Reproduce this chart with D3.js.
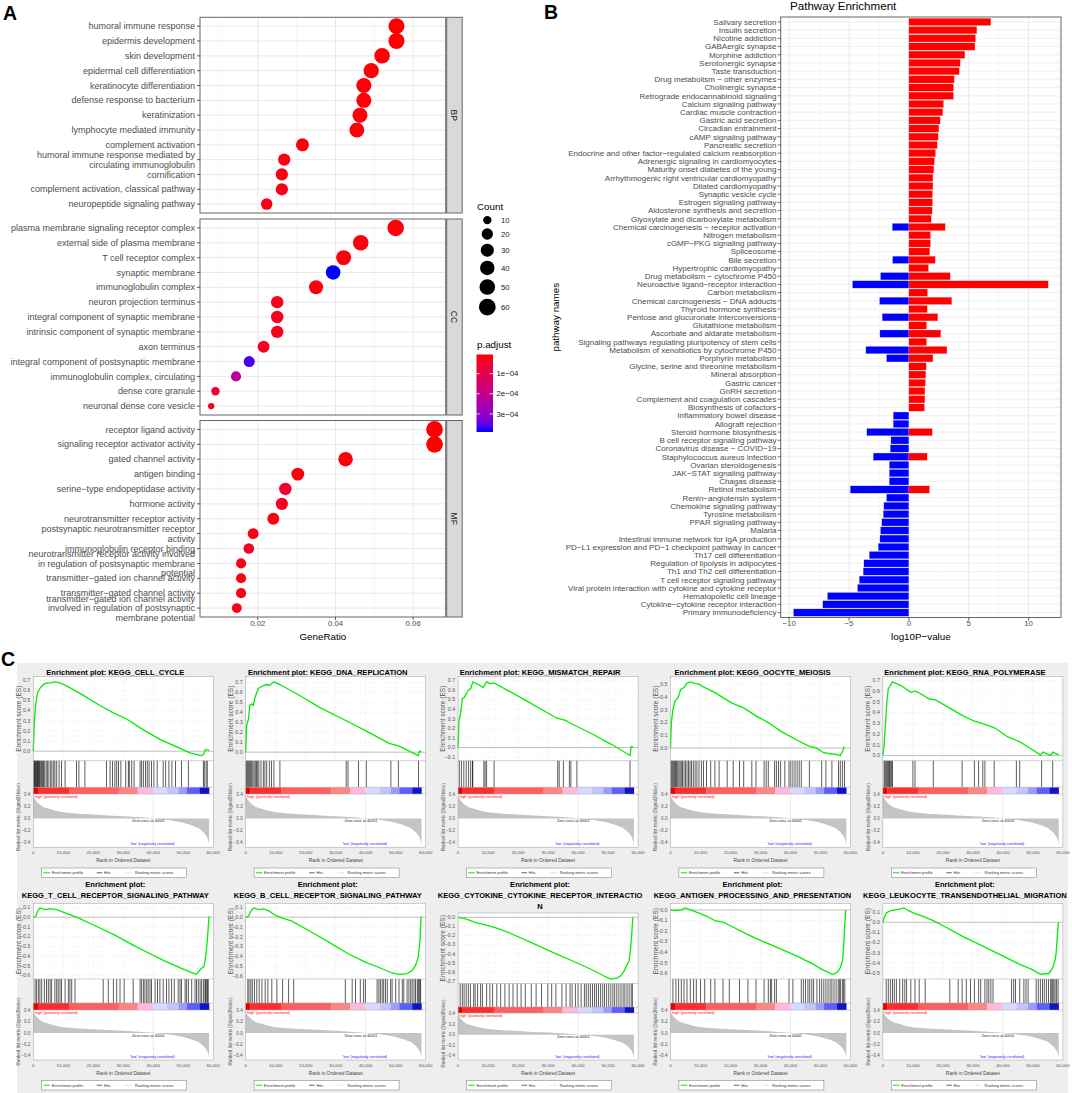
<!DOCTYPE html>
<html>
<head>
<meta charset="utf-8">
<title>Enrichment figure</title>
<script src="https://cdn.jsdelivr.net/npm/d3@7/dist/d3.min.js"></script>
<style>
body { margin: 0; background: #fff; }
svg { display: block; font-family: "Liberation Sans", Arial, Helvetica, sans-serif; }
</style>
</head>
<body>
<script>
// ---------- panel A : GO dot plot ----------
var bpTerms = ["humoral immune response", "epidermis development", "skin development",
  "epidermal cell differentiation", "keratinocyte differentiation", "defense response to bacterium",
  "keratinization", "lymphocyte mediated immunity", "complement activation",
  "humoral immune response mediated by\ncirculating immunoglobulin", "cornification",
  "complement activation, classical pathway", "neuropeptide signaling pathway"];
var bpRatio = [0.0557, 0.0557, 0.0520, 0.0492, 0.0473, 0.0473, 0.0463, 0.0455, 0.0315, 0.0268, 0.0262, 0.0262, 0.0223];
var bpCount = [53, 53, 49, 47, 45, 45, 44, 43, 30, 25, 25, 25, 21];
var bpPadj = [5e-6, 6e-6, 8e-6, 9e-6, 9e-6, 1e-5, 1e-5, 1.2e-5, 1.5e-5, 1.6e-5, 1.8e-5, 1.8e-5, 2e-5];

var ccTerms = ["plasma membrane signaling receptor complex", "external side of plasma membrane",
  "T cell receptor complex", "synaptic membrane", "immunoglobulin complex", "neuron projection terminus",
  "integral component of synaptic membrane", "intrinsic component of synaptic membrane", "axon terminus",
  "integral component of postsynaptic membrane", "immunoglobulin complex, circulating",
  "dense core granule", "neuronal dense core vesicle"];
var ccRatio = [0.0555, 0.0465, 0.0421, 0.0394, 0.0350, 0.0250, 0.0250, 0.0250, 0.0215, 0.0178, 0.0144, 0.0091, 0.0080];
var ccCount = [58, 49, 44, 41, 37, 26, 26, 26, 23, 19, 15, 10, 8];
var ccPadj = [1e-5, 1.2e-5, 1.5e-5, 3.9e-4, 1.8e-5, 2.5e-5, 2.5e-5, 2.5e-5, 3e-5, 3.7e-4, 2.2e-4, 5e-5, 2.5e-5];

var mfTerms = ["receptor ligand activity", "signaling receptor activator activity", "gated channel activity",
  "antigen binding", "serine\u2212type endopeptidase activity", "hormone activity",
  "neurotransmitter receptor activity", "postsynaptic neurotransmitter receptor\nactivity",
  "immunoglobulin receptor binding",
  "neurotransmitter receptor activity involved\nin regulation of postsynaptic membrane\npotential",
  "transmitter\u2212gated ion channel activity", "transmitter\u2212gated channel activity",
  "transmitter\u2212gated ion channel activity\ninvolved in regulation of postsynaptic\nmembrane potential"];
var mfRatio = [0.0655, 0.0655, 0.0426, 0.0303, 0.0271, 0.0262, 0.0240, 0.0188, 0.0177, 0.0157, 0.0157, 0.0157, 0.0146];
var mfCount = [60, 60, 40, 29, 26, 25, 23, 18, 17, 15, 15, 15, 14];
var mfPadj = [6e-6, 6e-6, 1e-5, 1.5e-5, 5e-5, 3.5e-5, 1.5e-5, 2e-5, 4e-5, 2e-5, 2e-5, 2e-5, 2e-5];

var goRatioTicks = [0.02, 0.04, 0.06];
var countBreaks = [10, 20, 30, 40, 50, 60];
var padjBreaks = [1e-4, 2e-4, 3e-4];

// ---------- panel B : KEGG pathway bars ----------
var keggNames = ["Salivary secretion", "Insulin secretion", "Nicotine addiction", "GABAergic synapse",
  "Morphine addiction", "Serotonergic synapse", "Taste transduction", "Drug metabolism \u2212 other enzymes",
  "Cholinergic synapse", "Retrograde endocannabinoid signaling", "Calcium signaling pathway",
  "Cardiac muscle contraction", "Gastric acid secretion", "Circadian entrainment", "cAMP signaling pathway",
  "Pancreatic secretion", "Endocrine and other factor\u2212regulated calcium reabsorption",
  "Adrenergic signaling in cardiomyocytes", "Maturity onset diabetes of the young",
  "Arrhythmogenic right ventricular cardiomyopathy", "Dilated cardiomyopathy", "Synaptic vesicle cycle",
  "Estrogen signaling pathway", "Aldosterone synthesis and secretion", "Glyoxylate and dicarboxylate metabolism",
  "Chemical carcinogenesis \u2212 receptor activation", "Nitrogen metabolism", "cGMP\u2212PKG signaling pathway",
  "Spliceosome", "Bile secretion", "Hypertrophic cardiomyopathy", "Drug metabolism \u2212 cytochrome P450",
  "Neuroactive ligand\u2212receptor interaction", "Carbon metabolism", "Chemical carcinogenesis \u2212 DNA adducts",
  "Thyroid hormone synthesis", "Pentose and glucuronate interconversions", "Glutathione metabolism",
  "Ascorbate and aldarate metabolism", "Signaling pathways regulating pluripotency of stem cells",
  "Metabolism of xenobiotics by cytochrome P450", "Porphyrin metabolism",
  "Glycine, serine and threonine metabolism", "Mineral absorption", "Gastric cancer", "GnRH secretion",
  "Complement and coagulation cascades", "Biosynthesis of cofactors", "Inflammatory bowel disease",
  "Allograft rejection", "Steroid hormone biosynthesis", "B cell receptor signaling pathway",
  "Coronavirus disease \u2212 COVID\u221219", "Staphylococcus aureus infection", "Ovarian steroidogenesis",
  "JAK\u2212STAT signaling pathway", "Chagas disease", "Retinol metabolism", "Renin\u2212angiotensin system",
  "Chemokine signaling pathway", "Tyrosine metabolism", "PPAR signaling pathway", "Malaria",
  "Intestinal immune network for IgA production", "PD\u2212L1 expression and PD\u22121 checkpoint pathway in cancer",
  "Th17 cell differentiation", "Regulation of lipolysis in adipocytes", "Th1 and Th2 cell differentiation",
  "T cell receptor signaling pathway", "Viral protein interaction with cytokine and cytokine receptor",
  "Hematopoietic cell lineage", "Cytokine\u2212cytokine receptor interaction", "Primary immunodeficiency"];
var keggUp = [6.85, 5.68, 5.57, 5.52, 4.68, 4.29, 4.21, 3.79, 3.73, 3.73,
  2.90, 2.84, 2.62, 2.51, 2.45, 2.37, 2.23, 2.14, 2.09, 2.01,
  2.01, 1.98, 1.98, 1.95, 1.87, 3.04, 1.81, 1.81, 1.75, 2.20,
  1.64, 3.45, 11.64, 1.56, 3.59, 1.53, 2.42, 1.48, 2.67, 1.48,
  3.18, 2.01, 1.45, 1.42, 1.39, 1.34, 1.34, 1.31, null, null,
  1.95, null, null, 1.53, null, null, null, 1.73, null, null,
  null, null, null, null, null, null, null, null, null, null,
  null, null, null];
var keggDown = [null, null, null, null, null, null, null, null, null, null,
  null, null, null, null, null, null, null, null, null, null,
  null, null, null, null, null, -1.39, null, null, null, -1.36,
  null, -2.37, -4.71, null, -2.45, null, -2.23, null, -2.42, null,
  -3.59, -1.87, null, null, null, null, null, null, -1.31, -1.31,
  -3.51, -1.50, -1.56, -2.98, -1.64, -1.64, -1.64, -4.90, -1.87, -2.09,
  -2.14, -2.26, -2.37, -2.42, -2.56, -3.31, -3.76, -3.82, -4.15, -4.29,
  -6.80, -7.19, -9.64];
var keggTicks = [-10, -5, 0, 5, 10];

// ---------- panel C : GSEA enrichment plots (rank in thousands) ----------
var gseaTitles = [
  ["Enrichment plot: KEGG_CELL_CYCLE"], ["Enrichment plot: KEGG_DNA_REPLICATION"],
  ["Enrichment plot: KEGG_MISMATCH_REPAIR"], ["Enrichment plot: KEGG_OOCYTE_MEIOSIS"],
  ["Enrichment plot: KEGG_RNA_POLYMERASE"],
  ["Enrichment plot:", "KEGG_T_CELL_RECEPTOR_SIGNALING_PATHWAY"],
  ["Enrichment plot:", "KEGG_B_CELL_RECEPTOR_SIGNALING_PATHWAY"],
  ["Enrichment plot:", "KEGG_CYTOKINE_CYTOKINE_RECEPTOR_INTERACTIO", "N"],
  ["Enrichment plot:", "KEGG_ANTIGEN_PROCESSING_AND_PRESENTATION"],
  ["Enrichment plot:", "KEGG_LEUKOCYTE_TRANSENDOTHELIAL_MIGRATION"]];

var es1 = [[0,0],[0.33,0.28],[0.78,0.45],[1.33,0.57],[2.22,0.62],[3.11,0.65],[3.89,0.667],[5.56,0.673],[7.22,0.683],[8.89,0.673],[11.1,0.643],[16.7,0.55],[22.2,0.45],[26.7,0.377],[31.1,0.317],[36.7,0.21],[42.2,0.117],[47.8,0.043],[52.2,-0.017],[55.9,-0.043],[56.7,-0.033],[57.4,0.017],[58.6,0.007]];
var es2 = [[0,0],[0.3,0.265],[0.9,0.33],[1.4,0.47],[2,0.485],[2.5,0.47],[3.1,0.55],[4.2,0.64],[5.9,0.67],[7,0.68],[8,0.673],[9.4,0.707],[11.4,0.68],[18,0.57],[24.6,0.45],[33.5,0.316],[40.1,0.214],[47.8,0.088],[51.2,0.061],[57.5,-0.034],[58,0.01],[58.6,0.003]];
var es3 = [[0,0],[0.27,0.27],[0.8,0.35],[1.4,0.51],[2,0.52],[2.7,0.56],[3.5,0.6],[4.2,0.615],[4.9,0.685],[7.2,0.65],[8.3,0.625],[9.5,0.685],[10.6,0.668],[12,0.675],[21.5,0.51],[32.8,0.308],[35.8,0.283],[37.8,0.248],[44.6,0.143],[51.4,0.028],[57.3,-0.084],[57.7,0.01],[58.3,0.007]];
var es4 = [[0,0],[0.27,0.195],[0.8,0.3],[1.5,0.37],[2.5,0.395],[3.4,0.46],[4.5,0.475],[5.5,0.51],[6.6,0.52],[7.9,0.51],[9.6,0.5],[11,0.48],[14.8,0.435],[20.3,0.355],[24.4,0.315],[28.5,0.253],[32.6,0.2],[36.7,0.133],[42.2,0.061],[46.3,0.013],[48.4,0.003],[51.1,-0.037],[53.2,-0.045],[55.2,-0.05],[56.6,-0.059],[57.5,-0.019],[57.9,0.013]];
var es5 = [[0,0],[0.4,0.096],[0.8,0.27],[1.4,0.527],[1.8,0.62],[2.5,0.655],[3.2,0.687],[5.9,0.655],[9.3,0.59],[10.7,0.6],[12,0.585],[15.5,0.527],[17.5,0.52],[21,0.463],[26.4,0.374],[30.5,0.32],[33.3,0.297],[37.4,0.256],[41.5,0.176],[45.6,0.128],[48.4,0.08],[52.5,0.006],[53.4,0.032],[55.9,0],[56.6,0.032],[58.6,0.006]];
var es6 = [[0,0],[0.8,0.01],[1.4,0.06],[2.2,0.096],[3.9,0.079],[5.6,0.089],[7.8,0.079],[10.6,0.045],[15,-0.007],[21.7,-0.103],[27.2,-0.185],[32.8,-0.28],[38.3,-0.366],[43.9,-0.452],[49.4,-0.527],[52.8,-0.572],[54.4,-0.589],[55,-0.565],[56.1,-0.527],[56.9,-0.51],[57.4,-0.418],[58,-0.247],[58.3,-0.11],[58.6,0.01]];
var es7 = [[0,0],[0.9,0.01],[2,0.077],[2.8,0.094],[4.2,0.077],[5.9,0.084],[7.6,0.067],[9.8,0.02],[12,-0.007],[15.4,-0.04],[23.2,-0.174],[28.8,-0.275],[34.3,-0.376],[39.9,-0.46],[45.5,-0.527],[48.8,-0.57],[51.1,-0.584],[53.8,-0.577],[55.5,-0.544],[56.6,-0.493],[57.5,-0.409],[58,-0.275],[58.3,-0.107],[58.5,0.01]];
var es8 = [[0,0],[2,-0.011],[4.1,-0.036],[6.1,-0.062],[9.5,-0.087],[13.6,-0.127],[17.6,-0.178],[24.4,-0.279],[31.2,-0.38],[38,-0.478],[44.8,-0.58],[48.8,-0.649],[50.9,-0.681],[52.9,-0.67],[54.3,-0.641],[55.4,-0.587],[56.3,-0.525],[57,-0.478],[57.5,-0.351],[57.9,-0.17],[58.2,-0.025],[58.3,0]];
var es9 = [[0,0],[1.1,-0.006],[2.5,-0.003],[3.8,0.003],[4.9,0.019],[5.9,0.009],[7.3,-0.006],[9.3,-0.028],[12.1,-0.06],[14.8,-0.101],[17.5,-0.116],[20.3,-0.154],[25.8,-0.233],[28.5,-0.27],[35.3,-0.352],[42.2,-0.437],[47.7,-0.516],[50.4,-0.563],[52.5,-0.588],[53.8,-0.61],[54.8,-0.604],[55.9,-0.579],[56.6,-0.547],[57.3,-0.484],[57.5,-0.421],[57.8,-0.296],[58.1,-0.138],[58.4,0]];
var es10 = [[0,0],[0.4,0.042],[1.1,0.092],[2.5,0.114],[4.5,0.124],[5.9,0.131],[7,0.141],[8.6,0.114],[10.7,0.085],[12.7,0.065],[16.8,0.016],[21,-0.049],[26.4,-0.137],[33.3,-0.235],[40.1,-0.333],[45.6,-0.415],[49.7,-0.464],[52.5,-0.513],[53.8,-0.507],[55.2,-0.507],[55.9,-0.48],[56.6,-0.448],[57.3,-0.382],[57.7,-0.317],[58.1,-0.154],[58.5,0]];

var hits1 = [0.2,0.4,0.6,0.8,1.0,1.2,1.4,1.6,1.8,2.0,2.2,2.5,2.8,3.1,3.4,3.8,4.3,4.7,5.2,5.8,6.2,6.8,7.2,7.8,8.6,9.4,10.6,14.4,15.2,17.2,24.4,25.6,26.4,27.2,27.8,28.4,29.2,30.8,31.7,32,32.8,33.6,35.6,36.1,36.7,37.4,38,38.6,39.4,40.2,41.3,43.3,44.1,45.2,46.2,47.4,49.4,51.7,56.7,57,57.6,58];
var hits2 = [0.2,0.5,0.8,1.1,1.4,1.7,2,2.4,2.8,3.2,3.6,4.0,4.4,5.1,5.9,6.4,7.0,7.9,8.6,9.4,11.4,33.5,34.1,37.6,40.2,48.4,50.9,57.6];
var hits3 = [0.4,1.1,1.9,2.7,3.5,4.2,4.8,4.9,8.6,9,9.5,12,33.2,33.7,35.1,37.1,37.6,39.6,57.3];
var hits4 = [0.2,0.5,0.8,1.1,1.4,1.7,2.0,2.4,2.8,3.2,3.6,4.0,4.5,5.0,5.5,6.0,6.5,7.0,7.6,8.2,8.8,9.5,10.3,11.0,12.0,13.4,14.8,16.2,18.9,20.9,23,24.4,27.1,28.5,31.2,31.9,32.6,34.7,35.3,36,36.7,38.1,39.5,40.1,40.8,41.5,42.2,42.9,43.6,46.3,50.4,51.8,53.8,56,56.6,57.3,58];
var hits5 = [0.4,0.7,1.0,1.3,1.6,1.9,2.2,2.5,2.9,3.2,10,10.7,16.8,26.4,30.5,31.9,33.3,34,37.1,44.5,45.6,52.9,56.6];
var hits6 = [0.6,1.1,1.7,2.2,2.8,3.7,4.4,5,5.6,6.1,7.2,7.8,8.3,8.9,9.4,10.6,11.7,12.2,12.8,13.9,23.3,25,26.7,27.8,28.9,30.3,33.3,35.6,36.1,36.7,37.2,37.8,38.3,38.9,39.4,40.6,41.4,42.2,43.3,44.4,45.2,46.1,47,48.3,48.9,49.4,50.6,51.1,51.7,52.8,53.9,54.4,55,55.6,56.1,56.7,57.2,57.4,57.8,58.1,58.3];
var hits7 = [0.7,1.1,1.7,2.2,2.9,3.7,4.5,5.4,6.5,7.4,8.7,10.4,12.3,14.3,16,33.2,35.5,36.6,38.2,39.3,39.9,43.8,44.4,44.9,45.5,46,46.6,47.2,48.3,48.8,50,51.1,52.2,52.7,53.8,54.4,55,55.5,56.1,56.6,57.2,57.5,57.8,58.1,58.3];
var hits8 = [0.7,1.4,2,2.7,3.4,4.1,5.2,5.7,6.5,7.5,8.1,9.5,10.6,11.5,12.9,14.2,15.6,17,18.3,19.7,21,22.4,24.4,26,27.8,29.9,31.2,32.6,34.6,36,37.3,38,39.1,40,41,42.1,42.7,43.4,44.1,44.8,45.5,46.1,46.8,47.5,48.2,48.8,49.5,50.2,50.9,51.6,52.2,52.9,53.6,54.3,55,55.6,56.3,57,57.7,58.1];
var hits9 = [0.8,1.8,2.7,3.6,4.5,5.5,6.6,7.7,8.6,10,11.4,13.4,14.8,17.5,19.6,23,25.8,28.5,31.2,32.6,33.3,33.7,34.7,35.3,39.5,40.8,43.6,44.3,45,45.8,46.4,47.1,47.7,48.8,49.7,50.4,51.1,51.8,52.5,53.2,53.8,54.5,55.2,55.9,56.3,56.7,57.3,57.7,58.1];
var hits10 = [1.1,1.8,2.5,3.2,3.8,4.5,5.6,6.6,7.3,7.9,9.3,10.7,12.1,14.1,22.3,25.1,26.4,27.8,29.2,30.5,31.9,32.6,34,34.7,35.3,36,36.7,42.9,43.6,44.2,45.6,47,47.7,48.4,51.1,51.8,52.5,53.2,53.8,54.5,55.2,55.9,56.3,56.6,57,57.4,57.9,58.4];

// ranked list metric (shared by all plots)
var metricCurve = [[0,0.38],[0.5,0.33],[1.2,0.28],[2.2,0.23],[3.5,0.19],[5.6,0.16],[7.5,0.13],[10,0.105],[15,0.082],[20,0.067],[25,0.052],[30,0.04],[35,0.025],[40,0.004],[40.1,-0.002],[44,-0.017],[49,-0.056],[52,-0.1],[55,-0.156],[56.7,-0.23],[57.8,-0.3],[58.4,-0.38],[58.6,-0.44]];
var metricTicks = [-0.4, -0.2, 0, 0.2, 0.4];
var heatEdges = [0, 1.5, 11.9, 28.5, 34.8, 39.9, 44.6, 48.4, 51.2, 55.5, 58.6];
var heatColors = ["#e80000", "#ff2e2e", "#ff5f5f", "#ff8585", "#ffb8de", "#d9d9ff", "#c3c3ff", "#9c9cff", "#5e5eff", "#1212c8"];
var zeroCross = 40.001;

// ---------------------------------------------------------------
var W = 1072, H = 1093;
var svg = d3.select("body").append("svg").attr("width", W).attr("height", H);

function letter(x, y, s) {
  svg.append("text").attr("x", x).attr("y", y).attr("font-size", 19.5)
     .attr("font-weight", "bold").attr("fill", "#000").text(s);
}
letter(3, 20, "A");
letter(544, 18.5, "B");
letter(1, 665.5, "C");

// ================= Panel A =================
var aLeft = 200, aRight = 445.7;
var facets = [
  {name: "BP", terms: bpTerms, ratio: bpRatio, count: bpCount, padj: bpPadj, y0: 17.3, y1: 213},
  {name: "CC", terms: ccTerms, ratio: ccRatio, count: ccCount, padj: ccPadj, y0: 219, y1: 415},
  {name: "MF", terms: mfTerms, ratio: mfRatio, count: mfCount, padj: mfPadj, y0: 420.5, y1: 617}
];
var allRatio = bpRatio.concat(ccRatio, mfRatio);
var rExt = d3.extent(allRatio), rPad = (rExt[1] - rExt[0]) * 0.05;
var xA = d3.scaleLinear().domain([rExt[0] - rPad, rExt[1] + rPad]).range([aLeft, aRight]);
var cExt = d3.extent(bpCount.concat(ccCount, mfCount));
var sizeLin = d3.scaleLinear().domain([0, 1]).range([3.15, 8.35]);
function dotR(c) { return sizeLin(Math.sqrt((c - cExt[0]) / (cExt[1] - cExt[0]))); }
var pExt = d3.extent(bpPadj.concat(ccPadj, mfPadj));
var colA = d3.scaleLinear().domain(pExt).range(["#ff0000", "#0000ff"]).interpolate(d3.interpolateLab);
var minorA = goRatioTicks.map(function(t) { return t - 0.01; })
  .concat([goRatioTicks[goRatioTicks.length - 1] + 0.01])
  .filter(function(t) { return t > xA.domain()[0] && t < xA.domain()[1]; });

facets.forEach(function(f) {
  var y = d3.scalePoint().domain(f.terms).range([f.y0, f.y1]).padding(0.6);
  var g = svg.append("g");
  g.append("rect").attr("x", aLeft).attr("y", f.y0).attr("width", aRight - aLeft)
    .attr("height", f.y1 - f.y0).attr("fill", "#fff");
  g.selectAll(".mn").data(minorA).enter().append("line")
    .attr("x1", xA).attr("x2", xA).attr("y1", f.y0).attr("y2", f.y1)
    .attr("stroke", "#f2f2f2").attr("stroke-width", 0.6);
  g.selectAll(".mj").data(goRatioTicks).enter().append("line")
    .attr("x1", xA).attr("x2", xA).attr("y1", f.y0).attr("y2", f.y1)
    .attr("stroke", "#e8e8e8").attr("stroke-width", 1);
  g.selectAll(".hz").data(f.terms).enter().append("line")
    .attr("x1", aLeft).attr("x2", aRight).attr("y1", y).attr("y2", y)
    .attr("stroke", "#e8e8e8").attr("stroke-width", 1);
  g.selectAll("circle").data(f.terms).enter().append("circle")
    .attr("cx", function(d, i) { return xA(f.ratio[i]); })
    .attr("cy", function(d) { return y(d); })
    .attr("r", function(d, i) { return dotR(f.count[i]); })
    .attr("fill", function(d, i) { return colA(f.padj[i]); });
  g.append("rect").attr("x", aLeft).attr("y", f.y0).attr("width", aRight - aLeft)
    .attr("height", f.y1 - f.y0).attr("fill", "none").attr("stroke", "#666").attr("stroke-width", 1);
  // strip
  g.append("rect").attr("x", aRight + 1).attr("y", f.y0).attr("width", 15.5).attr("height", f.y1 - f.y0)
    .attr("fill", "#d9d9d9").attr("stroke", "#666").attr("stroke-width", 1);
  g.append("text").attr("transform", "translate(" + (aRight + 8.7) + "," + ((f.y0 + f.y1) / 2) + ") rotate(90)")
    .attr("text-anchor", "middle").attr("dy", "0.35em").attr("font-size", 8.5).attr("fill", "#1a1a1a").text(f.name);
  // y axis ticks + labels
  g.selectAll(".tk").data(f.terms).enter().append("line")
    .attr("x1", aLeft - 3).attr("x2", aLeft).attr("y1", y).attr("y2", y)
    .attr("stroke", "#333").attr("stroke-width", 0.8);
  var lh = 9.6, fs = 9;
  f.terms.forEach(function(t) {
    var lines = t.split("\n");
    var tx = g.append("text").attr("x", aLeft - 5).attr("y", y(t)).attr("text-anchor", "end")
      .attr("font-size", fs).attr("fill", "#4d4d4d");
    lines.forEach(function(ln, k) {
      tx.append("tspan").attr("x", aLeft - 5)
        .attr("dy", k === 0 ? (-(lines.length - 1) / 2 * lh + fs * 0.35) : lh).text(ln);
    });
  });
});
// x axis of A
var axA = svg.append("g");
axA.selectAll("line").data(goRatioTicks).enter().append("line")
  .attr("x1", xA).attr("x2", xA).attr("y1", 617).attr("y2", 620).attr("stroke", "#333").attr("stroke-width", 0.8);
axA.selectAll("text").data(goRatioTicks).enter().append("text")
  .attr("x", xA).attr("y", 625.5).attr("text-anchor", "middle").attr("font-size", 7.8).attr("fill", "#4d4d4d")
  .text(d3.format(".2f"));
svg.append("text").attr("x", (aLeft + aRight) / 2).attr("y", 639.5).attr("text-anchor", "middle")
  .attr("font-size", 9.8).attr("fill", "#000").text("GeneRatio");

// legend: Count
svg.append("text").attr("x", 477).attr("y", 209.5).attr("font-size", 9.8).text("Count");
var ky = 214;
countBreaks.forEach(function(c, i) {
  var r = dotR(c), h = 2 * r + 4;
  var cy = ky + h / 2;
  svg.append("circle").attr("cx", 487.3).attr("cy", cy).attr("r", r).attr("fill", "#000");
  svg.append("text").attr("x", 501).attr("y", cy).attr("dy", "0.35em").attr("font-size", 7.8)
    .attr("fill", "#1a1a1a").text(c);
  ky += h;
});
// legend: p.adjust
svg.append("text").attr("x", 477).attr("y", 348).attr("font-size", 9.8).text("p.adjust");
var cbTop = 354.5, cbBot = 432, cbX = 476.5, cbW = 16.5;
var yCb = d3.scaleLinear().domain(pExt).range([cbTop, cbBot]);
var defs = svg.append("defs");
var grad = defs.append("linearGradient").attr("id", "padjGrad").attr("x1", 0).attr("x2", 0).attr("y1", 0).attr("y2", 1);
d3.range(0, 1.0001, 0.1).forEach(function(t) {
  grad.append("stop").attr("offset", t).attr("stop-color", colA(pExt[0] + t * (pExt[1] - pExt[0])));
});
svg.append("rect").attr("x", cbX).attr("y", cbTop).attr("width", cbW).attr("height", cbBot - cbTop)
  .attr("fill", "url(#padjGrad)");
padjBreaks.forEach(function(p) {
  var yy = yCb(p);
  svg.append("line").attr("x1", cbX).attr("x2", cbX + 3.3).attr("y1", yy).attr("y2", yy).attr("stroke", "#fff").attr("stroke-width", 0.8);
  svg.append("line").attr("x1", cbX + cbW - 3.3).attr("x2", cbX + cbW).attr("y1", yy).attr("y2", yy).attr("stroke", "#fff").attr("stroke-width", 0.8);
  svg.append("text").attr("x", 496.5).attr("y", yy).attr("dy", "0.35em").attr("font-size", 7.8).attr("fill", "#1a1a1a")
    .text(d3.format(".0e")(p).replace("e-4", "e\u221204"));
});

// ================= Panel B =================
var bLeft = 780.7, bRight = 1061, bTop = 17, bBot = 617.5;
var kVals = keggUp.concat(keggDown).filter(function(v) { return v != null; });
var kExt = d3.extent(kVals), kPad = (kExt[1] - kExt[0]) * 0.05;
var xB = d3.scaleLinear().domain([kExt[0] - kPad, kExt[1] + kPad]).range([bLeft, bRight]);
var yB = d3.scalePoint().domain(keggNames).range([bTop, bBot]).padding(0.6);
var bh = yB.step() * 0.9;
var gB = svg.append("g");
gB.append("rect").attr("x", bLeft).attr("y", bTop).attr("width", bRight - bLeft).attr("height", bBot - bTop).attr("fill", "#fff");
var minorB = keggTicks.map(function(t) { return t - 2.5; }).concat([keggTicks[keggTicks.length - 1] + 2.5])
  .filter(function(t) { return t > xB.domain()[0] && t < xB.domain()[1]; });
gB.selectAll(".mn").data(minorB).enter().append("line")
  .attr("x1", xB).attr("x2", xB).attr("y1", bTop).attr("y2", bBot).attr("stroke", "#f2f2f2").attr("stroke-width", 0.6);
gB.selectAll(".mj").data(keggTicks).enter().append("line")
  .attr("x1", xB).attr("x2", xB).attr("y1", bTop).attr("y2", bBot).attr("stroke", "#e8e8e8").attr("stroke-width", 1);
gB.selectAll(".hz").data(keggNames).enter().append("line")
  .attr("x1", bLeft).attr("x2", bRight).attr("y1", yB).attr("y2", yB).attr("stroke", "#ececec").attr("stroke-width", 0.8);
gB.selectAll(".up").data(keggNames.filter(function(d, i) { return keggUp[i] != null; })).enter().append("rect")
  .attr("x", xB(0))
  .attr("y", function(d) { return yB(d) - bh / 2; })
  .attr("width", function(d) { return xB(keggUp[keggNames.indexOf(d)]) - xB(0); })
  .attr("height", bh).attr("fill", "#ff0000").attr("stroke", "#ffd0d0").attr("stroke-width", 0.3);
gB.selectAll(".dn").data(keggNames.filter(function(d, i) { return keggDown[i] != null; })).enter().append("rect")
  .attr("x", function(d) { return xB(keggDown[keggNames.indexOf(d)]); })
  .attr("y", function(d) { return yB(d) - bh / 2; })
  .attr("width", function(d) { return xB(0) - xB(keggDown[keggNames.indexOf(d)]); })
  .attr("height", bh).attr("fill", "#0000ff").attr("stroke", "#d0d0ff").attr("stroke-width", 0.3);
gB.append("rect").attr("x", bLeft).attr("y", bTop).attr("width", bRight - bLeft).attr("height", bBot - bTop)
  .attr("fill", "none").attr("stroke", "#666").attr("stroke-width", 1);
gB.selectAll(".tk").data(keggNames).enter().append("line")
  .attr("x1", bLeft - 3).attr("x2", bLeft).attr("y1", yB).attr("y2", yB).attr("stroke", "#333").attr("stroke-width", 0.7);
gB.selectAll(".lb").data(keggNames).enter().append("text")
  .attr("x", bLeft - 4.2).attr("y", yB).attr("dy", "0.35em").attr("text-anchor", "end")
  .attr("font-size", 8).attr("fill", "#4d4d4d").text(function(d) { return d; });
gB.selectAll(".xt").data(keggTicks).enter().append("line")
  .attr("x1", xB).attr("x2", xB).attr("y1", bBot).attr("y2", bBot + 3).attr("stroke", "#333").attr("stroke-width", 0.8);
gB.selectAll(".xl").data(keggTicks).enter().append("text")
  .attr("x", xB).attr("y", 625.5).attr("text-anchor", "middle").attr("font-size", 7.8).attr("fill", "#4d4d4d")
  .text(function(d) { return d < 0 ? "\u2212" + Math.abs(d) : d; });
svg.append("text").attr("x", (bLeft + bRight) / 2).attr("y", 639.5).attr("text-anchor", "middle")
  .attr("font-size", 9.8).text("log10P\u2212value");
svg.append("text").attr("transform", "translate(556," + ((bTop + bBot) / 2) + ") rotate(-90)")
  .attr("text-anchor", "middle").attr("dy", "0.35em").attr("font-size", 9.8).text("pathway names");
svg.append("text").attr("x", 790).attr("y", 10).attr("font-size", 11.6).text("Pathway Enrichment");

// ================= Panel C =================
svg.append("rect").attr("x", 17).attr("y", 663).attr("width", 1051).attr("height", 430).attr("fill", "#eeeeee");

var esSets = [es1, es2, es3, es4, es5, es6, es7, es8, es9, es10];
var hitSets = [hits1, hits2, hits3, hits4, hits5, hits6, hits7, hits8, hits9, hits10];
var rowLayout = [
  {titleY: 675, esTop: 676.7, esBot: 760.7, hitBot: 787.3, barBot: 794, metBot: 847.3, tickY: 854.3, rankY: 862, legY: 868},
  {titleY: 887, esTop: 903.3, esBot: 979, hitBot: 1003, barBot: 1010, metBot: 1060, tickY: 1067, rankY: 1074.5, legY: 1080.5}
];

function drawGsea(i) {
  var row = Math.floor(i / 5), col = i % 5;
  var L = Object.assign({}, rowLayout[row]);
  var title = gseaTitles[i];
  if (title.length > 2) { L.esTop = 913; L.esBot = 983.5; L.hitBot = 1007; L.barBot = 1013; }
  var x0 = 33.3 + col * 212.4, pw = 180;
  var g = svg.append("g");
  var x = d3.scaleLinear().domain([0, 60]).range([x0, x0 + pw]);
  var es = esSets[i];
  var ext = d3.extent(es, function(d) { return d[1]; }), pad = (ext[1] - ext[0]) * 0.07;
  var y = d3.scaleLinear().domain([ext[0] - pad, ext[1] + pad]).range([L.esBot, L.esTop]);
  var ym = d3.scaleLinear().domain([-0.48, 0.41]).range([L.metBot, L.barBot]);

  title.forEach(function(t, k) {
    g.append("text").attr("x", x0 + 82).attr("y", L.titleY + k * 11).attr("text-anchor", "middle")
      .attr("font-size", 7.55).attr("font-weight", "bold").attr("fill", "#000").text(t);
  });
  g.append("rect").attr("x", x0).attr("y", L.esTop).attr("width", pw).attr("height", L.metBot - L.esTop).attr("fill", "#fff");

  var rTicks = x.ticks(6);
  var esTicks = d3.range(Math.ceil(y.domain()[0] * 10 - 1e-6), Math.floor(y.domain()[1] * 10 + 1e-6) + 1)
    .map(function(v) { return v / 10; });
  // grid
  g.selectAll(".gv").data(rTicks.slice(1, -1)).enter().append("line")
    .attr("x1", x).attr("x2", x).attr("y1", L.esTop).attr("y2", L.esBot)
    .attr("stroke", "#e2e2e2").attr("stroke-width", 0.5).attr("stroke-dasharray", "1.5,1.5");
  g.selectAll(".gh").data(esTicks).enter().append("line")
    .attr("x1", x0).attr("x2", x0 + pw).attr("y1", y).attr("y2", y)
    .attr("stroke", "#e2e2e2").attr("stroke-width", 0.5).attr("stroke-dasharray", "1.5,1.5");
  g.append("line").attr("x1", x0).attr("x2", x0 + pw).attr("y1", y(0)).attr("y2", y(0))
    .attr("stroke", "#9a9a9a").attr("stroke-width", 0.6);
  // ES curve
  g.append("path").datum(es)
    .attr("d", d3.line().x(function(d) { return x(d[0]); }).y(function(d) { return y(d[1]); }))
    .attr("fill", "none").attr("stroke", "#00ee00").attr("stroke-width", 1.3);
  // hits
  g.selectAll(".hit").data(hitSets[i]).enter().append("line")
    .attr("x1", x).attr("x2", x).attr("y1", L.esBot).attr("y2", L.hitBot)
    .attr("stroke", "#000").attr("stroke-width", 0.8).attr("stroke-opacity", 0.8);
  // heat bar
  heatColors.forEach(function(c, k) {
    g.append("rect").attr("x", x(heatEdges[k])).attr("y", L.hitBot)
      .attr("width", x(heatEdges[k + 1]) - x(heatEdges[k]) + 0.2).attr("height", L.barBot - L.hitBot).attr("fill", c);
  });
  // ranked metric
  g.append("path").datum(metricCurve)
    .attr("d", d3.area().x(function(d) { return x(d[0]); }).y0(ym(0)).y1(function(d) { return ym(d[1]); }))
    .attr("fill", "#c4c4c4");
  g.append("line").attr("x1", x(zeroCross)).attr("x2", x(zeroCross)).attr("y1", L.barBot).attr("y2", L.metBot)
    .attr("stroke", "#aaa").attr("stroke-width", 0.5).attr("stroke-dasharray", "1,1");
  g.append("text").attr("x", x0 + 1).attr("y", L.barBot + 4).attr("font-size", 3.6).attr("fill", "#ff0000")
    .text("'high' (positively correlated)");
  g.append("text").attr("x", x(38.4)).attr("y", ym(0) + 3.5).attr("text-anchor", "middle").attr("font-size", 3.7)
    .attr("fill", "#222").text("Zero cross at " + Math.round(zeroCross * 1000));
  g.append("text").attr("x", x(39.7)).attr("y", L.metBot - 2.5).attr("text-anchor", "middle").attr("font-size", 3.7)
    .attr("fill", "#2222ff").text("'low' (negatively correlated)");
  // frame lines
  g.append("rect").attr("x", x0).attr("y", L.esTop).attr("width", pw).attr("height", L.metBot - L.esTop)
    .attr("fill", "none").attr("stroke", "#a0a0a0").attr("stroke-width", 0.5);
  [L.esBot, L.hitBot, L.barBot].forEach(function(yy) {
    g.append("line").attr("x1", x0).attr("x2", x0 + pw).attr("y1", yy).attr("y2", yy)
      .attr("stroke", "#a0a0a0").attr("stroke-width", 0.5);
  });
  // axes labels
  g.selectAll(".yt").data(esTicks).enter().append("text")
    .attr("x", x0 - 3).attr("y", y).attr("dy", "0.35em").attr("text-anchor", "end")
    .attr("font-size", 5.3).attr("fill", "#555").text(d3.format(".1f"));
  g.selectAll(".mt").data(metricTicks).enter().append("text")
    .attr("x", x0 - 3).attr("y", ym).attr("dy", "0.35em").attr("text-anchor", "end")
    .attr("font-size", 4.6).attr("fill", "#555").text(d3.format(".1f"));
  g.selectAll(".xt").data(rTicks).enter().append("text")
    .attr("x", x).attr("y", L.tickY).attr("text-anchor", "middle")
    .attr("font-size", 4.4).attr("fill", "#555").text(function(d) { return d3.format(",")(d * 1000); });
  g.append("text").attr("x", x0 + pw / 2).attr("y", L.rankY).attr("text-anchor", "middle")
    .attr("font-size", 4.9).attr("fill", "#444").text("Rank in Ordered Dataset");
  g.append("text").attr("transform", "translate(" + (x0 - 15) + "," + ((L.esTop + L.esBot) / 2) + ") rotate(-90)")
    .attr("text-anchor", "middle").attr("dy", "0.35em").attr("font-size", 6.6).attr("fill", "#555")
    .text("Enrichment score (ES)");
  g.append("text").attr("transform", "translate(" + (x0 - 15) + "," + ((L.hitBot + L.metBot) / 2) + ") rotate(-90)")
    .attr("text-anchor", "middle").attr("dy", "0.35em").attr("font-size", 4.6).attr("fill", "#555")
    .text("Ranked list metric (Signal2Noise)");
  // legend box
  var lx = x0 + 8.4, ly = L.legY, lhgt = 9.5, my = ly + lhgt / 2;
  g.append("rect").attr("x", lx).attr("y", ly).attr("width", 145).attr("height", lhgt)
    .attr("fill", "#fff").attr("stroke", "#777").attr("stroke-width", 0.5);
  g.append("line").attr("x1", lx + 1.7).attr("x2", lx + 8.3).attr("y1", my).attr("y2", my).attr("stroke", "#00ee00").attr("stroke-width", 1);
  g.append("text").attr("x", lx + 10).attr("y", my).attr("dy", "0.35em").attr("font-size", 3.9).attr("fill", "#333").text("Enrichment profile");
  g.append("line").attr("x1", lx + 55).attr("x2", lx + 60.5).attr("y1", my).attr("y2", my).attr("stroke", "#222").attr("stroke-width", 0.7);
  g.append("text").attr("x", lx + 62.3).attr("y", my).attr("dy", "0.35em").attr("font-size", 3.9).attr("fill", "#333").text("Hits");
  g.append("line").attr("x1", lx + 83.3).attr("x2", lx + 90).attr("y1", my).attr("y2", my).attr("stroke", "#d5d5d5").attr("stroke-width", 0.7);
  g.append("text").attr("x", lx + 93.3).attr("y", my).attr("dy", "0.35em").attr("font-size", 3.9).attr("fill", "#333").text("Ranking metric scores");
}
for (var i = 0; i < gseaTitles.length; i++) drawGsea(i);
</script>
</body>
</html>
